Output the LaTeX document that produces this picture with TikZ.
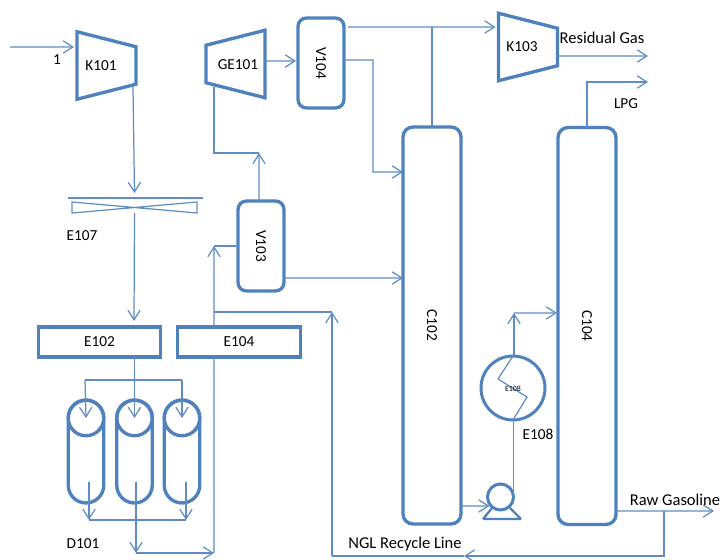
\documentclass[tikz,border=0pt]{standalone}
\usepackage{fontspec}
\setmainfont{Carlito}
\usetikzlibrary{arrows.meta, positioning, calc}
\definecolor{mBlue}{HTML}{4F81BD}
\definecolor{mPipe}{HTML}{5F8CC4}

\begin{document}
\begin{tikzpicture}[
    x=0.02cm, y=-0.02cm,
    pipe/.style={draw=mPipe, line width=0.7pt},
    flow/.style={pipe, -{Straight Barb[length=5.5pt, width=7pt]}},
    shell/.style={draw=mBlue, line width=1.9pt},
    unit/.style={shell, rectangle, outer sep=0pt, inner sep=0pt},
    column/.style={unit, rounded corners=0.2cm, minimum width=1.16cm, minimum height=7.94cm, font=\fontsize{8.7}{11}\selectfont},
    drum/.style={unit, rounded corners=0.17cm, minimum width=0.92cm, minimum height=1.8cm, font=\fontsize{8.7}{11}\selectfont},
    cooler/.style={unit, minimum width=2.45cm, minimum height=0.6cm, font=\fontsize{8.7}{11}\selectfont},
    bed/.style={unit, rounded corners=0.355cm, minimum width=0.71cm, minimum height=2.06cm},
    bedhead/.style={unit, circle, minimum size=0.71cm},
    comp/.style={rectangle, outer sep=0pt, inner sep=0pt, minimum width=1.18cm, minimum height=1.35cm},
    tag/.style={font=\fontsize{8.7}{11}\selectfont, inner sep=0pt},
    longtag/.style={font=\fontsize{9.4}{11}\selectfont, inner sep=0pt},
  ]
    \useasboundingbox (0,0) rectangle (720,560);

    % compressors
    \node[comp] (K101) at (106.5,65.5) {};
    \node[comp] (GE101) at (235.5,64) {};
    \node[comp] (K103) at (528,47) {};
    \draw[shell] (K101.north west) -- ([yshift=-0.3cm]K101.north east) -- ([yshift=0.3cm]K101.south east) -- (K101.south west) -- cycle;
    \draw[shell] (GE101.north east) -- ([yshift=-0.3cm]GE101.north west) -- ([yshift=0.3cm]GE101.south west) -- (GE101.south east) -- cycle;
    \draw[shell] (K103.north west) -- ([yshift=-0.3cm]K103.north east) -- ([yshift=0.3cm]K103.south east) -- (K103.south west) -- cycle;
    \node[tag] (K101tag) at (101,66) {K101};
    \node[tag] (GE101tag) at (238,65) {GE101};
    \node[tag] (K103tag) at (522,47) {K103};

    % drums and columns
    \node[drum] (V104) at (321,63) {\rotatebox{-90}{V104}};
    \node[drum] (V103) at (261,246) {\rotatebox{-90}{V103}};
    \node[column] (C102) at (432,325.5) {\rotatebox{-90}{C102}};
    \node[column] (C104) at (587,326) {\rotatebox{-90}{C104}};

    % air cooler
    \node[minimum width=2.5cm, minimum height=0.22cm, inner sep=0pt, outer sep=0pt] (E107) at (134.5,207.5) {};
    \draw[pipe] (E107.north west) -- (E107.south east) -- (E107.north east) -- (E107.south west) -- cycle;
    \coordinate (barL) at (68,198);
    \coordinate (barR) at (203,198);
    \draw[pipe] (barL) -- (barR);
    \node[tag] (E107tag) at (82,236) {E107};

    % exchangers
    \node[cooler] (E102) at (99.5,342) {E102};
    \node[cooler] (E104) at (239,342) {E104};

    % dryer beds
    \node[bed] (D101a) at (86,451.5) {};
    \node[bed] (D101b) at (134.5,451.5) {};
    \node[bed] (D101c) at (182,451.5) {};
    \node[bedhead] (D101ah) at (86,418) {};
    \node[bedhead] (D101bh) at (134.5,418) {};
    \node[bedhead] (D101ch) at (182,418) {};
    \node[tag] (D101tag) at (83,544) {D101};

    % reboiler and pump
    \node[unit, circle, minimum size=1.28cm, line width=1.7pt] (E108) at (513,388) {};
    \coordinate (zig1) at (498,379);
    \coordinate (zig2) at (527,397);
    \draw[pipe] (E108.north) -- (zig1) -- (zig2) -- (E108.south);
    \node[font=\fontsize{4.5}{5}\selectfont, inner sep=0pt] (E108in) at (513,389) {E108};
    \node[tag] (E108tag) at (538,434) {E108};
    \node[unit, circle, minimum size=0.52cm, line width=1.7pt] (Pump) at (500.5,497) {};
    \coordinate (baseL) at (483,519);
    \coordinate (baseR) at (521,519);
    \draw[draw=mBlue, line width=1.3pt] (baseL) -- (492,508) (baseR) -- (510,508) (baseL) -- (baseR);

    % inlet, K101 to E102
    \coordinate (feed) at (10,47);
    \coordinate (k101out) at (133,87);
    \draw[flow] (feed) -- ([xshift=-0.06cm, yshift=0.37cm]K101.west);
    \node[tag] (feedtag) at (57,60) {1};
    \draw[flow] (k101out) -- ([yshift=0.18cm]E107.north);
    \draw[flow] (E107.south) -- ([xshift=-0.01cm, yshift=0.12cm]E102.north -| E107.south);

    % E102 to beds
    \coordinate (hdrL) at (85,380);
    \coordinate (hdrR) at (182,380);
    \draw[flow] (E102.south -| E107.south) -- (D101bh.center);
    \draw[pipe] (hdrL) -- (hdrR);
    \draw[flow] (hdrL) -- (D101ah.center);
    \draw[flow] (hdrR) -- (D101ch.center);

    % beds to collector
    \coordinate (botL) at (89,520);
    \coordinate (botR) at (186,520);
    \coordinate (botM) at (136,553);
    \coordinate (dryout) at (214,553);
    \coordinate (bedL) at (89,482);
    \coordinate (bedM) at (136,482);
    \coordinate (bedR) at (186,482);
    \draw[flow] (bedL) -- (botL);
    \draw[flow] (bedR) -- (botR);
    \draw[pipe] (botL) -- (botR);
    \draw[flow] (bedM) -- (botM);
    \draw[flow] (botM) -- (dryout);

    % dry line through E104
    \coordinate (upV) at (214,246);
    \coordinate (teeR) at (214,312);
    \coordinate (recyc) at (332,312);
    \draw[pipe] (dryout) -- ([xshift=-0.5cm]E104.south);
    \draw[flow] ([xshift=-0.5cm]E104.north) -- (upV);
    \draw[pipe] (upV) -- (V103.west);
    \draw[pipe] (teeR) -- (recyc);

    % V103 and GE101
    \coordinate (v103up) at (259,153);
    \coordinate (ge101in) at (214,87);
    \draw[flow] ([xshift=-0.04cm]V103.north) -- (v103up);
    \draw[pipe] (v103up) -| (ge101in);
    \draw[flow] ([yshift=-0.64cm]V103.east) -- ([yshift=0.95cm]C102.west);
    \draw[flow] ([yshift=0.06cm]GE101.east) -- ([xshift=-0.04cm, yshift=0.04cm]V104.west);

    % V104 to C102 and K103
    \coordinate (c102turn) at (373,172);
    \coordinate (ovhd) at (432,27);
    \draw[flow] ([yshift=0.06cm]V104.east) -| (c102turn) -- ([yshift=3.07cm]C102.west);
    \draw[flow] ([xshift=0.08cm, yshift=0.72cm]V104.east) -- ([xshift=-0.06cm, yshift=0.4cm]K103.west);
    \draw[pipe] (C102.north) -- (ovhd);

    % products
    \coordinate (resid) at (648,56);
    \coordinate (lpg) at (648,82);
    \draw[flow] ([yshift=-0.18cm]K103.east) -- (resid);
    \draw[flow] (C104.north) |- (lpg);
    \node[longtag] (residtag) at (602,38) {Residual Gas};
    \node[tag] (lpgtag) at (626,104) {LPG};

    % bottoms
    \coordinate (e108top) at (514,313);
    \draw[flow] ([yshift=-3.61cm]C102.east) -- ([xshift=0.04cm, yshift=-0.18cm]Pump.west);
    \draw[pipe] (Pump.east) -- (Pump.east |- E108.south);
    \draw[flow] (E108.north -| e108top) -- (e108top);
    \draw[flow] (e108top) -- ([xshift=-0.02cm, yshift=0.26cm]C104.west);

    % raw gasoline and recycle
    \coordinate (rawout) at (714,511);
    \coordinate (rawtee) at (664,511);
    \coordinate (ngl) at (464,556);
    \coordinate (nglL) at (332,556);
    \draw[flow] ([yshift=-3.7cm]C104.east) -- (rawout);
    \draw[flow] (rawtee) |- (ngl);
    \draw[pipe] (ngl) -- (nglL);
    \draw[flow] (nglL) -- (recyc);
    \node[longtag] (rawtag) at (675,500) {Raw Gasoline};
    \node[longtag] (ngltag) at (405,544) {NGL Recycle Line};
\end{tikzpicture}
\end{document}
